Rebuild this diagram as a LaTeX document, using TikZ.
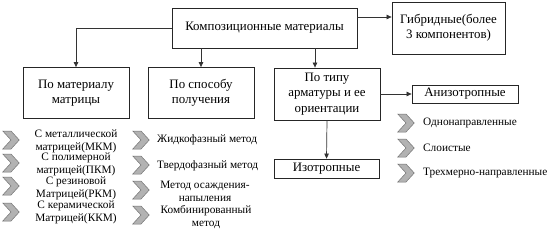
\documentclass[tikz,border=0pt]{standalone}
\usepackage{fontspec}
\setmainfont{Liberation Serif}
\usetikzlibrary{arrows.meta,shapes.symbols}
\begin{document}
\begin{tikzpicture}[x=1pt,y=-1pt,
  box/.style={draw=black!85,line width=0.8pt,inner sep=0pt,font=\rmfamily\fontsize{12.9}{15.5}\selectfont,align=center},
  arr/.style={draw=black!80,line width=0.7pt,-{Triangle[length=5pt,width=4.5pt]}},
  chev/.style={signal,signal to=east,signal from=west,signal pointer angle=95,draw=black!55,fill=black!30,line width=0.5pt,minimum width=13pt,minimum height=18pt,inner sep=0pt},
  lbl/.style={font=\rmfamily\fontsize{11.3}{13}\selectfont,align=center,inner sep=0pt},
  lbll/.style={font=\rmfamily\fontsize{11.3}{13}\selectfont,anchor=west,inner sep=0pt}]
\useasboundingbox (0,0) rectangle (556,238);
% main boxes
\node[box,minimum width=185pt,minimum height=40pt] (main) at (264.5,28) {Композиционные материалы};
\node[box,minimum width=113pt,minimum height=52pt] (hyb) at (448.5,28) {Гибридные(более\\3 компонентов)};
\node[box,minimum width=106pt,minimum height=51pt] (mat) at (76,93) {По материалу\\матрицы};
\node[box,minimum width=106pt,minimum height=51pt] (spo) at (201,93) {По способу\\получения};
\node[box,minimum width=106pt,minimum height=52pt] (arm) at (327,94) {По типу\\арматуры и ее\\ориентации};
\node[box,minimum width=106pt,minimum height=18pt] (ani) at (465,94) {Анизотропные};
\node[box,minimum width=105pt,minimum height=19pt] (iso) at (326.5,168.5) {Изотропные};
% connectors
\coordinate (c1) at (76,28);
\draw[arr] (main.west) -- (c1) -- (mat.north);
\draw[arr] (main.south -| spo.north) -- (spo.north);
\draw[arr] (main.south -| 315,0) -- (arm.north -| 315,0);
\draw[arr] (main.east |- hyb.west) ++(0,-11) coordinate (h0) -- (h0 -| hyb.west);
\draw[arr] (arm.east) -- (ani.west);
\draw[arr] (arm.south) -- (iso.north);
% left column
\node[chev] (ca1) at (11,140) {};
\node[chev] (ca2) at (11,163) {};
\node[chev] (ca3) at (11,186) {};
\node[chev] (ca4) at (11,212) {};
\node[lbl] (ta1) at (76,141) {С металлической\\матрицей(МКМ)};
\node[lbl] (ta2) at (76,164) {С полимерной\\матрицей(ПКМ)};
\node[lbl] (ta3) at (76,188) {С резиновой\\Матрицей(РКМ)};
\node[lbl] (ta4) at (76,212) {С керамической\\Матрицей(ККМ)};
% middle column
\node[chev] (cb1) at (141,140) {};
\node[chev] (cb2) at (141,165) {};
\node[chev] (cb3) at (141,190) {};
\node[chev] (cb4) at (141,215) {};
\node[lbll] (tb1) at (157,140) {Жидкофазный метод};
\node[lbll] (tb2) at (157,166) {Твердофазный метод};
\node[lbl] (tb3) at (205,191) {Метод осаждения-\\напыления};
\node[lbl] (tb4) at (206,217) {Комбинированный\\метод};
% right column
\node[chev] (cc1) at (406,123) {};
\node[chev] (cc2) at (406,148) {};
\node[chev] (cc3) at (406,173) {};
\node[lbll] (tc1) at (423,123) {Однонаправленные};
\node[lbll] (tc2) at (423,148) {Слоистые};
\node[lbll] (tc3) at (423,173) {Трехмерно-направленные};
\end{tikzpicture}
\end{document}
